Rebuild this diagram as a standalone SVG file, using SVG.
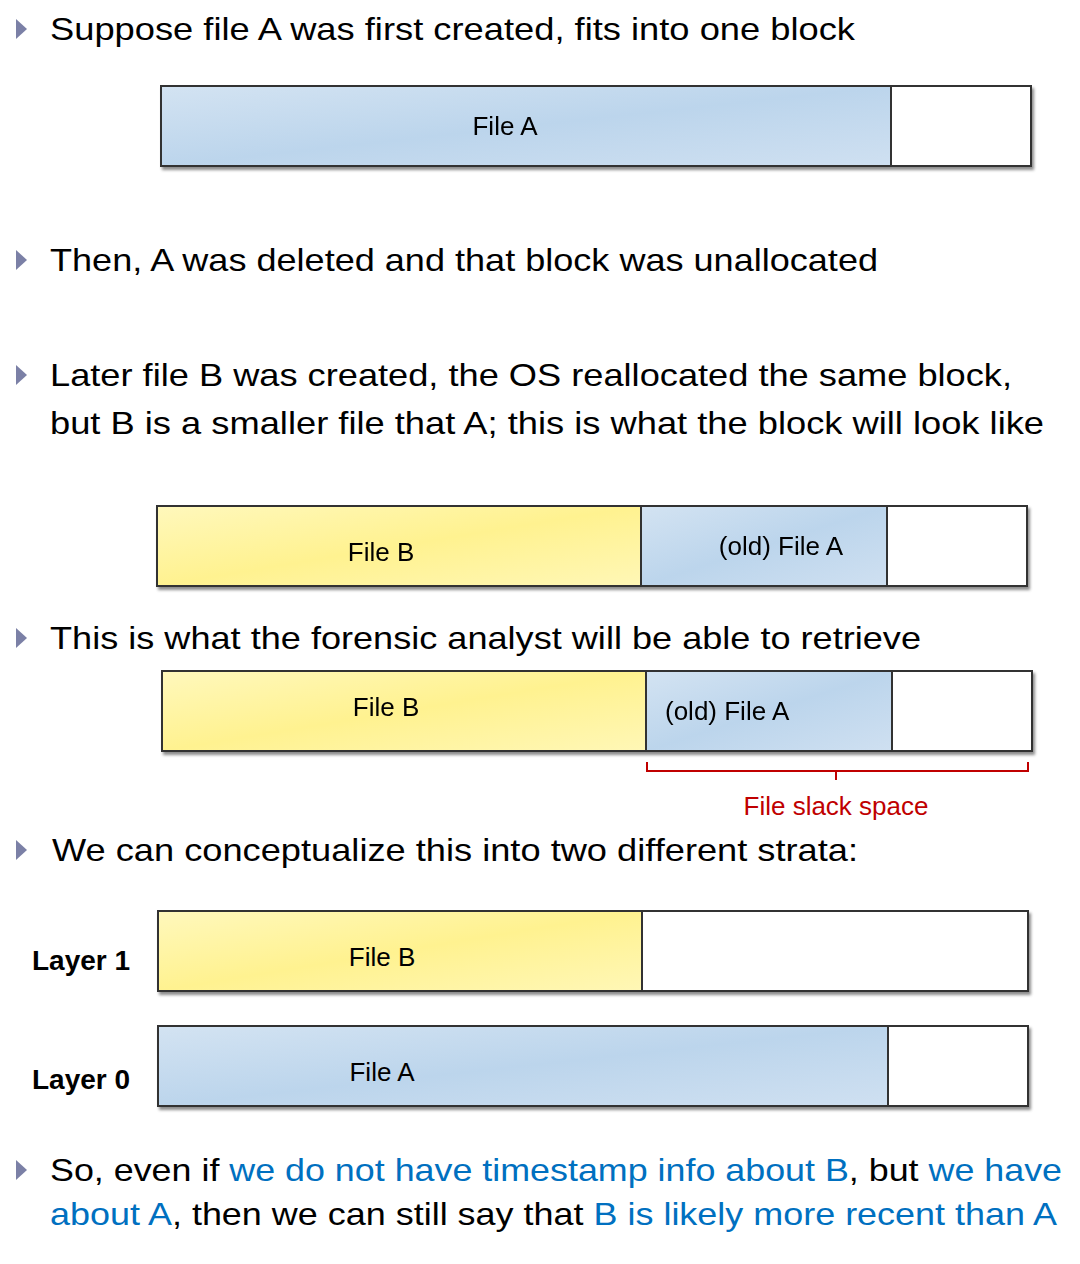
<svg xmlns="http://www.w3.org/2000/svg" width="1080" height="1264" viewBox="0 0 1080 1264">
<defs>
<linearGradient id="gBlue" x1="0" y1="0" x2="1" y2="1">
<stop offset="0" stop-color="#d3e3f2"/>
<stop offset="0.5" stop-color="#bcd5ec"/>
<stop offset="1" stop-color="#cfe0f1"/>
</linearGradient>
<linearGradient id="gYellow" x1="0" y1="0" x2="1" y2="1">
<stop offset="0" stop-color="#fff8bc"/>
<stop offset="0.5" stop-color="#fff290"/>
<stop offset="1" stop-color="#fff7b6"/>
</linearGradient>
<filter id="shadow" x="-5%" y="-20%" width="110%" height="150%">
<feDropShadow dx="2" dy="3" stdDeviation="1.5" flood-color="#000" flood-opacity="0.45"/>
</filter>
<polygon id="bullet" points="16,-10 27,0 16,10" fill="#7b80a6"/>
</defs>
<style>
.t{font-family:"Liberation Sans","DejaVu Sans",sans-serif;font-size:32px;fill:#000}
.hl{fill:#0070c0}
.lbl{font-family:"Liberation Sans","DejaVu Sans",sans-serif;font-size:26px;fill:#000}
.layer{font-family:"Liberation Sans","DejaVu Sans",sans-serif;font-size:28px;font-weight:bold;fill:#000}
.blk{stroke:#333;stroke-width:2}
.slack{font-family:"Liberation Sans","DejaVu Sans",sans-serif;font-size:26px;fill:#c00000}
</style>

<g id="bullets">
<use href="#bullet" y="29"/>
<use href="#bullet" y="260"/>
<use href="#bullet" y="375"/>
<use href="#bullet" y="638"/>
<use href="#bullet" y="850"/>
<use href="#bullet" y="1170"/>
</g>

<g id="text">
<text class="t" x="50" y="40" textLength="805" lengthAdjust="spacingAndGlyphs">Suppose file A was first created, fits into one block</text>
<text class="t" x="50" y="271" textLength="828" lengthAdjust="spacingAndGlyphs">Then, A was deleted and that block was unallocated</text>
<text class="t" x="50" y="386" textLength="962" lengthAdjust="spacingAndGlyphs">Later file B was created, the OS reallocated the same block,</text>
<text class="t" x="50" y="434" textLength="994" lengthAdjust="spacingAndGlyphs">but B is a smaller file that A; this is what the block will look like</text>
<text class="t" x="50" y="649" textLength="871" lengthAdjust="spacingAndGlyphs">This is what the forensic analyst will be able to retrieve</text>
<text class="t" x="52" y="861" textLength="806" lengthAdjust="spacingAndGlyphs">We can conceptualize this into two different strata:</text>
<text class="t" x="50" y="1181" textLength="1012" lengthAdjust="spacingAndGlyphs">So, even if <tspan class="hl">we do not have timestamp info about B</tspan>, but <tspan class="hl">we have</tspan></text>
<text class="t" x="50" y="1225" textLength="1007" lengthAdjust="spacingAndGlyphs"><tspan class="hl">about A</tspan>, then we can still say that <tspan class="hl">B is likely more recent than A</tspan></text>
</g>

<g id="block1" filter="url(#shadow)">
<rect class="blk" x="161" y="86" width="870" height="80" fill="#fff"/>
<rect class="blk" x="161" y="86" width="730" height="80" fill="url(#gBlue)"/>
<text class="lbl" x="505" y="135" text-anchor="middle">File A</text>
</g>

<g id="block2" filter="url(#shadow)">
<rect class="blk" x="157" y="506" width="870" height="80" fill="#fff"/>
<rect class="blk" x="157" y="506" width="484" height="80" fill="url(#gYellow)"/>
<rect class="blk" x="641" y="506" width="246" height="80" fill="url(#gBlue)"/>
<text class="lbl" x="381" y="561" text-anchor="middle">File B</text>
<text class="lbl" x="781" y="555" text-anchor="middle">(old) File A</text>
</g>

<g id="block3" filter="url(#shadow)">
<rect class="blk" x="162" y="671" width="870" height="80" fill="#fff"/>
<rect class="blk" x="162" y="671" width="484" height="80" fill="url(#gYellow)"/>
<rect class="blk" x="646" y="671" width="246" height="80" fill="url(#gBlue)"/>
<text class="lbl" x="386" y="716" text-anchor="middle">File B</text>
<text class="lbl" x="665" y="720">(old) File A</text>
</g>

<g id="connectors">
<path d="M647,762 V771 H1028 V762 M836,771 V780" fill="none" stroke="#c00000" stroke-width="2"/>
</g>
<g id="slack-label">
<text class="slack" x="836" y="815" text-anchor="middle">File slack space</text>
</g>

<g id="layer1">
<text class="layer" x="32" y="970">Layer 1</text>
<g filter="url(#shadow)">
<rect class="blk" x="158" y="911" width="870" height="80" fill="#fff"/>
<rect class="blk" x="158" y="911" width="484" height="80" fill="url(#gYellow)"/>
</g>
<text class="lbl" x="382" y="966" text-anchor="middle">File B</text>
</g>

<g id="layer0">
<text class="layer" x="32" y="1089">Layer 0</text>
<g filter="url(#shadow)">
<rect class="blk" x="158" y="1026" width="870" height="80" fill="#fff"/>
<rect class="blk" x="158" y="1026" width="730" height="80" fill="url(#gBlue)"/>
</g>
<text class="lbl" x="382" y="1081" text-anchor="middle">File A</text>
</g>
</svg>
